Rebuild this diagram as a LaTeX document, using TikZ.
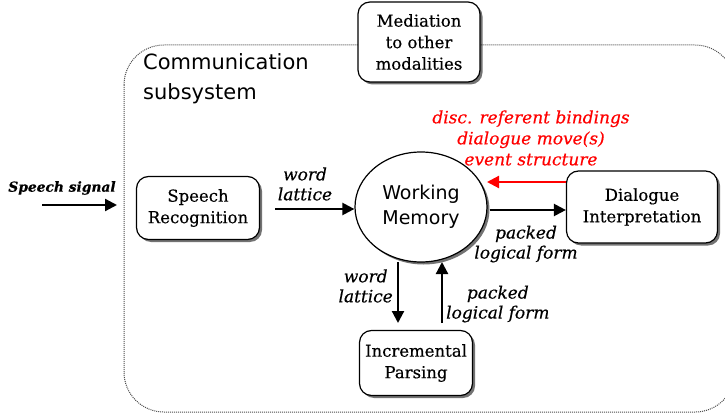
\documentclass[tikz,border=0pt]{standalone}
\usepackage{fontspec}
\setmainfont{DejaVu Serif}[FakeBold=0.4]
\newfontfamily\commfont{DejaVu Sans}
\usetikzlibrary{shadows,arrows.meta,shapes.geometric}
\begin{document}
\begin{tikzpicture}[x=1pt,y=-1pt,
  proc/.style={draw,line width=1.2pt,rounded corners=12pt,fill=white,align=center,
    font=\fontsize{16.5}{21.5}\selectfont,inner sep=0pt,
    drop shadow={shadow xshift=2.5pt,shadow yshift=-2.5pt,opacity=0.55,fill=black}},
  lab/.style={font=\fontsize{17}{20}\itshape\selectfont,align=center,inner sep=0pt},
  arr/.style={line width=2.2pt,-{Triangle[length=12pt,width=12pt]}},
]
\useasboundingbox (0,0) rectangle (725,414);
\begin{scope}
\clip (0,0) rectangle (725,414);
\draw[gray!60!black,line width=1pt,dash pattern=on 1pt off 1pt,rounded corners=40pt] (124,45) rectangle (735,412);
\end{scope}
\node[anchor=north west,font=\fontsize{21}{30}\commfont,align=left,inner sep=0pt] (comm) at (143,53) {Communication\\subsystem};

\node[proc,minimum width=122pt,minimum height=80pt] (med) at (419,42) {Mediation\\to other\\modalities};
\node[proc,minimum width=123pt,minimum height=63pt] (sr) at (198,208) {Speech\\Recognition};
\node[draw,line width=1.2pt,ellipse,fill=white,minimum width=132pt,minimum height=110pt,align=center,
  font=\fontsize{19}{25}\commfont\selectfont,inner sep=0pt,
  drop shadow={shadow xshift=2.5pt,shadow yshift=-2.5pt,opacity=0.55,fill=black}] (wm) at (421,207) {Working\\Memory};
\node[proc,minimum width=151pt,minimum height=72pt] (di) at (642,207) {Dialogue\\Interpretation};
\node[proc,minimum width=113pt,minimum height=65pt] (ip) at (416,363) {Incremental\\Parsing};

\coordinate (ss) at (42,205);
\draw[arr] (ss) -- (117,205);
\node[lab,font=\fontsize{13.8}{18}\bfseries\itshape\selectfont] (sslab) at (62,188) {Speech signal};

\draw[arr] (275,209) -- (wm.west |- 0,209);
\node[lab] (wl1) at (305,184) {word\\lattice};

\draw[arr,red] (di.west |- 0,182) -- (487,182);
\node[lab,red,font=\fontsize{17}{21}\itshape\selectfont] (redlab) at (531,138) {disc. referent bindings\\dialogue move(s)\\event structure};

\draw[arr] (490,210) -- (di.west |- 0,210);
\node[lab] (plf1) at (526,244) {packed\\logical form};

\draw[arr] (398,262) -- (398,323);
\node[lab,anchor=east] (wl2) at (393,286) {word\\lattice};
\draw[arr] (442,323) -- (442,262);
\node[lab,anchor=west] (plf2) at (446,304) {packed\\logical form};
\end{tikzpicture}
\end{document}
